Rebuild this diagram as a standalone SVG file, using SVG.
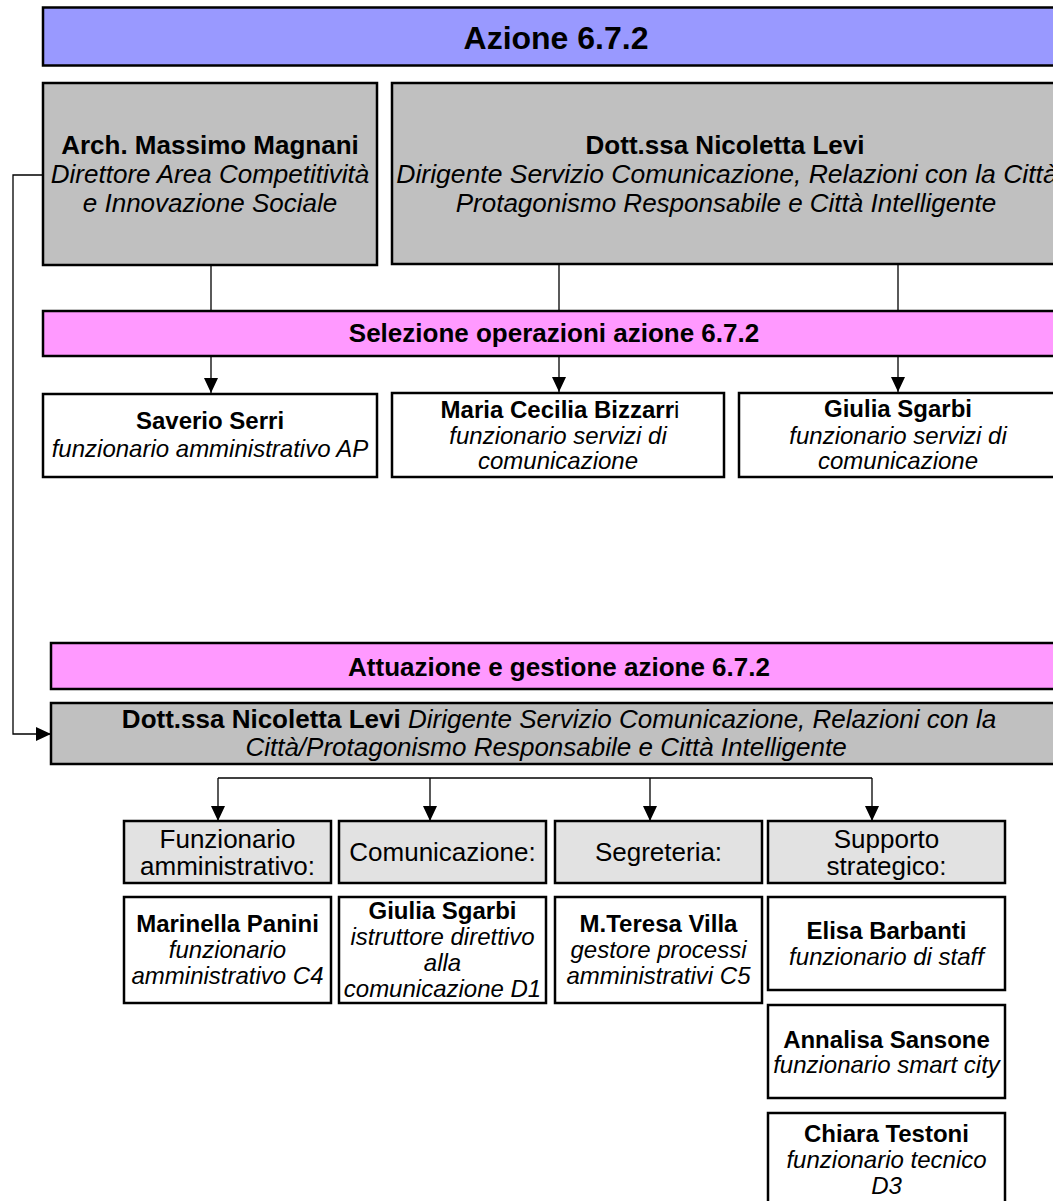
<svg xmlns="http://www.w3.org/2000/svg" width="1053" height="1201" viewBox="0 0 1053 1201">
  <style>
    .box { stroke: #000; stroke-width: 2.5; }
    .title { fill: #9999FF; }
    .phase { fill: #FF99FF; }
    .chief { fill: #C0C0C0; }
    .role { fill: #E2E2E2; }
    .person { fill: #FFFFFF; }
    text { font-family: "Liberation Sans", Arial, sans-serif; fill: #000; text-anchor: middle; }
    .b { font-weight: bold; }
    .i { font-style: italic; }
    .s32 { font-size: 32px; }
    .s26 { font-size: 26px; }
    .s24 { font-size: 24px; }
    .wire { fill: none; stroke: #000; stroke-width: 1.3; }
  </style>
  <defs>
    <marker id="arrow" markerUnits="userSpaceOnUse" markerWidth="15" markerHeight="14" refX="15" refY="7" orient="auto">
      <path d="M0,0 L15,7 L0,14 z" fill="#000"/>
    </marker>
  </defs>

  <rect width="1053" height="1201" fill="#FFFFFF"/>

  <!-- connectors -->
  <g id="connectors">
    <!-- heads down to the selection bar -->
    <line class="wire" x1="211" y1="265" x2="211" y2="311"/>
    <line class="wire" x1="559" y1="264" x2="559" y2="311"/>
    <line class="wire" x1="898" y1="264" x2="898" y2="311"/>
    <!-- selection bar to the three officers -->
    <line class="wire" x1="211" y1="356" x2="211" y2="393" marker-end="url(#arrow)"/>
    <line class="wire" x1="559" y1="356" x2="559" y2="392" marker-end="url(#arrow)"/>
    <line class="wire" x1="898" y1="356" x2="898" y2="392" marker-end="url(#arrow)"/>
    <!-- director to the management head -->
    <polyline class="wire" points="43,175 13,175 13,734 51,734" marker-end="url(#arrow)"/>
    <!-- bracket over the four offices -->
    <line class="wire" x1="218" y1="778" x2="872" y2="778"/>
    <line class="wire" x1="218" y1="778" x2="218" y2="821" marker-end="url(#arrow)"/>
    <line class="wire" x1="430" y1="778" x2="430" y2="821" marker-end="url(#arrow)"/>
    <line class="wire" x1="650" y1="778" x2="650" y2="821" marker-end="url(#arrow)"/>
    <line class="wire" x1="872" y1="778" x2="872" y2="821" marker-end="url(#arrow)"/>
  </g>

  <g id="azione">
    <rect class="box title" x="43" y="7.5" width="1023" height="58"/>
    <text class="b s32" x="556" y="49">Azione 6.7.2</text>
  </g>

  <g id="magnani">
    <rect class="box chief" x="43" y="83" width="334" height="182"/>
    <text class="b s26" x="210" y="154">Arch. Massimo Magnani</text>
    <text class="i s26" x="210" y="183">Direttore Area Competitività</text>
    <text class="i s26" x="210" y="212">e Innovazione Sociale</text>
  </g>

  <g id="levi">
    <rect class="box chief" x="392" y="83" width="672" height="181"/>
    <text class="b s26" x="725" y="154">Dott.ssa Nicoletta Levi</text>
    <text class="i" font-size="26.5" x="727" y="183">Dirigente Servizio Comunicazione, Relazioni con la Città</text>
    <text class="i s26" x="726" y="212">Protagonismo Responsabile e Città Intelligente</text>
  </g>

  <g id="selezione">
    <rect class="box phase" x="43" y="311" width="1023" height="45"/>
    <text class="b s26" x="554" y="342">Selezione operazioni azione 6.7.2</text>
  </g>

  <g id="serri">
    <rect class="box person" x="43" y="394" width="334" height="83"/>
    <text class="b s24" x="210" y="429">Saverio Serri</text>
    <text class="i s24" x="210" y="457">funzionario amministrativo AP</text>
  </g>

  <g id="bizzarri">
    <rect class="box person" x="392" y="393" width="332" height="84"/>
    <text class="s24" x="560" y="418"><tspan class="b">Maria Cecilia Bizzarr</tspan>i</text>
    <text class="i s24" x="558" y="444">funzionario servizi di</text>
    <text class="i s24" x="558" y="469">comunicazione</text>
  </g>

  <g id="sgarbi-selezione">
    <rect class="box person" x="739" y="393" width="325" height="84"/>
    <text class="b s24" x="898" y="417">Giulia Sgarbi</text>
    <text class="i s24" x="898" y="444">funzionario servizi di</text>
    <text class="i s24" x="898" y="469">comunicazione</text>
  </g>

  <g id="attuazione">
    <rect class="box phase" x="51" y="643" width="1015" height="46"/>
    <text class="b s26" x="559" y="676">Attuazione e gestione azione 6.7.2</text>
  </g>

  <g id="levi-gestione">
    <rect class="box chief" x="51" y="703" width="1015" height="61"/>
    <text class="s26" x="559" y="728"><tspan class="b">Dott.ssa Nicoletta Levi </tspan><tspan class="i">Dirigente Servizio Comunicazione, Relazioni con la</tspan></text>
    <text class="i s26" x="546" y="756">Città/Protagonismo Responsabile e Città Intelligente</text>
  </g>

  <g id="ufficio-amministrativo">
    <rect class="box role" x="124" y="821" width="207" height="62"/>
    <text class="s26" x="227.5" y="848">Funzionario</text>
    <text class="s26" x="227.5" y="875">amministrativo:</text>
  </g>

  <g id="ufficio-comunicazione">
    <rect class="box role" x="339" y="821" width="207" height="62"/>
    <text class="s26" x="442.5" y="861">Comunicazione:</text>
  </g>

  <g id="ufficio-segreteria">
    <rect class="box role" x="555" y="821" width="207" height="62"/>
    <text class="s26" x="658.5" y="861">Segreteria:</text>
  </g>

  <g id="ufficio-supporto">
    <rect class="box role" x="768" y="821" width="237" height="62"/>
    <text class="s26" x="886.5" y="848">Supporto</text>
    <text class="s26" x="886.5" y="875">strategico:</text>
  </g>

  <g id="panini">
    <rect class="box person" x="124" y="897" width="207" height="106"/>
    <text class="b s24" x="227.5" y="932">Marinella Panini</text>
    <text class="i s24" x="227.5" y="958">funzionario</text>
    <text class="i s24" x="227.5" y="984">amministrativo C4</text>
  </g>

  <g id="sgarbi-gestione">
    <rect class="box person" x="339" y="897" width="207" height="106"/>
    <text class="b s24" x="442.5" y="919">Giulia Sgarbi</text>
    <text class="i s24" x="442.5" y="945">istruttore direttivo</text>
    <text class="i s24" x="442.5" y="971">alla</text>
    <text class="i s24" x="442.5" y="997">comunicazione D1</text>
  </g>

  <g id="villa">
    <rect class="box person" x="555" y="897" width="207" height="106"/>
    <text class="b s24" x="658.5" y="932">M.Teresa Villa</text>
    <text class="i s24" x="658.5" y="958">gestore processi</text>
    <text class="i s24" x="658.5" y="984">amministrativi C5</text>
  </g>

  <g id="barbanti">
    <rect class="box person" x="768" y="897" width="237" height="93"/>
    <text class="b s24" x="886.5" y="939">Elisa Barbanti</text>
    <text class="i s24" x="886.5" y="965">funzionario di staff</text>
  </g>

  <g id="sansone">
    <rect class="box person" x="768" y="1005" width="237" height="93"/>
    <text class="b s24" x="886.5" y="1048">Annalisa Sansone</text>
    <text class="i s24" x="886.5" y="1073">funzionario smart city</text>
  </g>

  <g id="testoni">
    <rect class="box person" x="768" y="1113" width="237" height="100"/>
    <text class="b s24" x="886.5" y="1142">Chiara Testoni</text>
    <text class="i s24" x="886.5" y="1168">funzionario tecnico</text>
    <text class="i s24" x="886.5" y="1194">D3</text>
  </g>
</svg>
